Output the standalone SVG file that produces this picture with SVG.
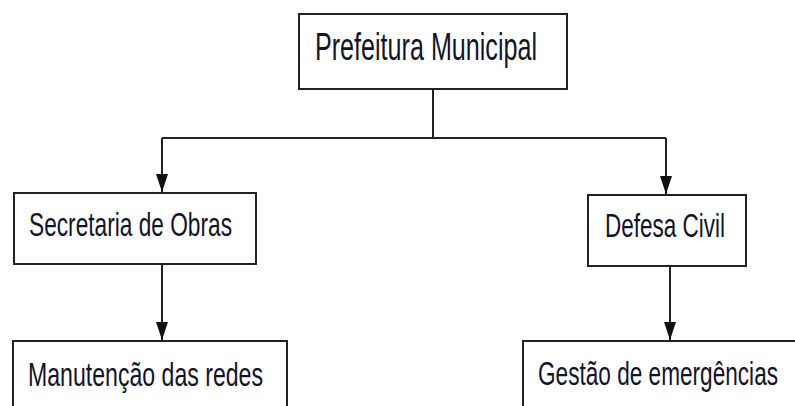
<svg xmlns="http://www.w3.org/2000/svg" width="795" height="406" viewBox="0 0 795 406">
<style>
.box{fill:#fff;stroke:#222;stroke-width:2}
.lbl{font-family:"Liberation Sans",Arial,sans-serif;fill:#141428}
.con{fill:none;stroke:#222;stroke-width:2}
</style>
<defs>
<marker id="ah" viewBox="0 0 18 12" refX="18" refY="6" markerWidth="18" markerHeight="12" markerUnits="userSpaceOnUse" orient="auto"><path d="M0,0 L18,6 L0,12 Z" fill="#111"/></marker>
</defs>
<rect width="795" height="406" fill="#fff"/>
<g id="connectors">
<path class="con" d="M433,89 V138"/>
<path class="con" d="M162,138 H666"/>
<path class="con" d="M162,138 V192" marker-end="url(#ah)"/>
<path class="con" d="M666,138 V194" marker-end="url(#ah)"/>
<path class="con" d="M162,264 V340" marker-end="url(#ah)"/>
<path class="con" d="M670,266 V340" marker-end="url(#ah)"/>
</g>
<g id="prefeitura">
<rect class="box" x="299" y="14" width="268" height="75"/>
<text class="lbl" x="315" y="60" font-size="39" textLength="222" lengthAdjust="spacingAndGlyphs">Prefeitura Municipal</text>
</g>
<g id="secretaria">
<rect class="box" x="14" y="193" width="242" height="71"/>
<text class="lbl" x="29" y="236" font-size="34" textLength="203" lengthAdjust="spacingAndGlyphs">Secretaria de Obras</text>
</g>
<g id="defesa">
<rect class="box" x="588" y="195" width="158" height="71"/>
<text class="lbl" x="605" y="237" font-size="34" textLength="120" lengthAdjust="spacingAndGlyphs">Defesa Civil</text>
</g>
<g id="manutencao">
<path class="box" d="M13,407 V341 H287 V407"/>
<text class="lbl" x="28" y="386" font-size="34" textLength="235" lengthAdjust="spacingAndGlyphs">Manutenção das redes</text>
</g>
<g id="gestao">
<path class="box" d="M523,407 V341 H796"/>
<text class="lbl" x="538" y="385" font-size="34" textLength="240" lengthAdjust="spacingAndGlyphs">Gestão de emergências</text>
</g>
</svg>
